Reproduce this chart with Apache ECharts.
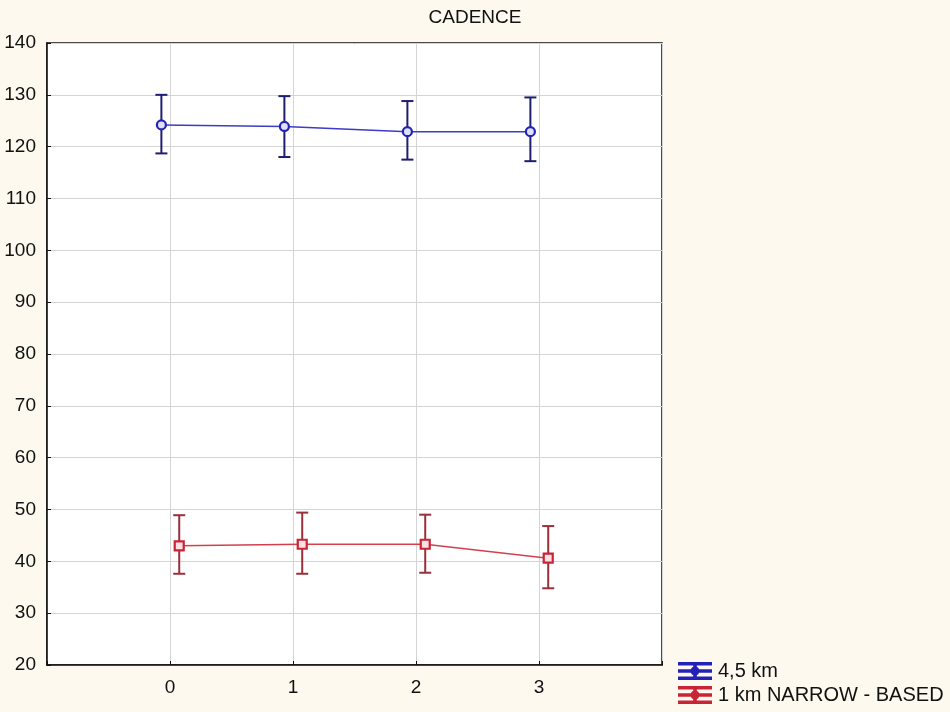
<!DOCTYPE html>
<html>
<head>
<meta charset="utf-8">
<script src="https://cdn.jsdelivr.net/npm/echarts@6/dist/echarts.min.js"></script>
<style>
html,body{margin:0;padding:0;background:#fdf9ee;}
#chart{width:950px;height:712px;}
</style>
</head>
<body>
<div id="chart"></div>
<script>
const titleText = 'CADENCE';
const categories = [0, 1, 2, 3];
const xTickLabels = ['0', '1', '2', '3'];
const seriesNames = ['4,5 km', '1 km NARROW - BASED'];
const blueShift = -0.07;
const redShift = 0.075;
const blueMean = [124.2, 123.9, 122.9, 122.9];
const blueLow  = [118.7, 118.0, 117.5, 117.2];
const blueHigh = [130.0, 129.75, 128.8, 129.5];
const redMean = [43.0, 43.3, 43.3, 40.6];
const redLow  = [37.6, 37.6, 37.8, 34.8];
const redHigh = [48.9, 49.4, 49.0, 46.8];

const chart = echarts.init(document.getElementById('chart'));

function errData(shift, low, high) {
  return categories.map((c, i) => [c + shift, low[i], high[i]]);
}
function meanData(shift, mean) {
  return categories.map((c, i) => [c + shift, mean[i]]);
}
function errRender(color) {
  return function (params, api) {
    const x = api.value(0);
    const lo = api.coord([x, api.value(1)]);
    const hi = api.coord([x, api.value(2)]);
    const hw = 6;
    const st = { stroke: color, lineWidth: 2 };
    return {
      type: 'group',
      children: [
        { type: 'line', shape: { x1: lo[0], y1: lo[1], x2: hi[0], y2: hi[1] }, style: st },
        { type: 'line', shape: { x1: hi[0] - hw, y1: hi[1], x2: hi[0] + hw, y2: hi[1] }, style: st },
        { type: 'line', shape: { x1: lo[0] - hw, y1: lo[1], x2: lo[0] + hw, y2: lo[1] }, style: st }
      ]
    };
  };
}
const iconPath = 'path://M0,0H32V1.6H0Z M0,7.2H32V8.8H0Z M0,14.4H32V16H0Z M15.2,0H16.8V16H15.2Z M16,4.5A3.5,3.5 0 1 1 15.99,4.5Z';

chart.setOption({
  backgroundColor: '#fdf9ee',
  animation: false,
  title: {
    text: titleText,
    left: 'center',
    top: 3,
    textStyle: { fontFamily: 'Liberation Sans', fontSize: 19, fontWeight: 'normal', color: '#111' }
  },
  legend: {
    orient: 'vertical',
    left: 678,
    top: 661,
    height: 51,
    padding: 0,
    itemWidth: 32,
    itemHeight: 16,
    itemGap: 4,
    data: [
      { name: seriesNames[0], icon: iconPath },
      { name: seriesNames[1], icon: iconPath }
    ],
    textStyle: { fontFamily: 'Liberation Sans', fontSize: 20, color: '#111', padding: [0, 0, 0, 2] }
  },
  grid: {
    left: 47, right: 288, top: 43, bottom: 47,
    show: true, backgroundColor: '#ffffff', borderColor: '#111', borderWidth: 1.5
  },
  xAxis: {
    type: 'value', min: -1, max: 4, interval: 1,
    axisLine: { show: true, onZero: false, lineStyle: { color: '#111', width: 1.5 } },
    axisTick: { show: true, inside: true, length: 4, lineStyle: { color: '#111' } },
    axisLabel: {
      fontFamily: 'Liberation Sans', fontSize: 19, color: '#111', margin: 13,
      formatter: function (v) { const i = categories.indexOf(v); return i >= 0 ? xTickLabels[i] : ''; }
    },
    splitLine: { show: true, lineStyle: { color: '#d4d4d4', width: 1 } }
  },
  yAxis: {
    type: 'value', min: 20, max: 140, interval: 10,
    axisLine: { show: true, onZero: false, lineStyle: { color: '#111', width: 1.5 } },
    axisTick: { show: true, inside: true, length: 4, lineStyle: { color: '#111' } },
    axisLabel: { fontFamily: 'Liberation Sans', fontSize: 19, color: '#111', margin: 11 },
    splitLine: { show: true, lineStyle: { color: '#d4d4d4', width: 1 } }
  },
  series: [
    {
      type: 'custom', name: 'err1', data: errData(blueShift, blueLow, blueHigh),
      renderItem: errRender('#1e1e70'), z: 2, silent: true
    },
    {
      type: 'custom', name: 'err2', data: errData(redShift, redLow, redHigh),
      renderItem: errRender('#9a2f3c'), z: 2, silent: true
    },
    {
      type: 'line', name: seriesNames[0], data: meanData(blueShift, blueMean),
      symbol: 'circle', symbolSize: 9, z: 3,
      lineStyle: { color: '#3c3cc8', width: 1.5 },
      itemStyle: { color: '#dfe0ff', borderColor: '#2222b8', borderWidth: 2.2 },
      color: '#2a2ab8'
    },
    {
      type: 'line', name: seriesNames[1], data: meanData(redShift, redMean),
      symbol: 'rect', symbolSize: 9, z: 3,
      lineStyle: { color: '#d2404e', width: 1.5 },
      itemStyle: { color: '#ffe0e4', borderColor: '#c82436', borderWidth: 2.2 },
      color: '#d83040'
    }
  ]
});
</script>
</body>
</html>
